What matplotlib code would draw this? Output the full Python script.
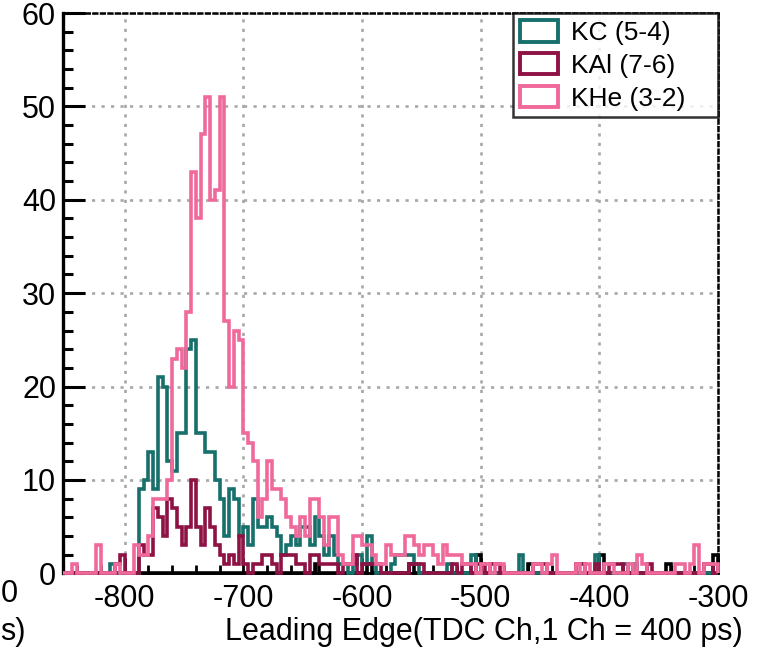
import numpy as np
import matplotlib
matplotlib.use('Agg')
import matplotlib.pyplot as plt
from matplotlib.patches import Patch
from matplotlib.ticker import MultipleLocator

plt.rcParams['font.family'] = ['Liberation Sans', 'DejaVu Sans']
plt.rcParams['axes.unicode_minus'] = False

# histogram binning: 4 channels per bin, -852 .. -300
bin_lo = -852
bin_hi = -300
bin_w = 4

# counts per bin, 10 bins per row starting at -852
khe = [0, 0, 1, 0, 0, 0, 0, 3, 0, 0,
       0, 1, 0, 0, 0, 3, 2, 2, 4, 8,
       8, 8, 10, 23, 24, 22, 28, 43, 38, 47,
       51, 40, 41, 51, 27, 20, 26, 25, 15, 14,
       12, 6, 8, 12, 9, 9, 8, 6, 5, 4,
       6, 4, 8, 8, 6, 3, 6, 6, 2, 1,
       1, 4, 4, 3, 3, 2, 1, 1, 3, 2,
       2, 2, 4, 4, 3, 2, 3, 3, 2, 1,
       3, 2, 2, 2, 1, 1, 1, 0, 1, 1,
       0, 1, 1, 0, 0, 0, 0, 0, 0, 1,
       1, 0, 1, 2, 0, 0, 0, 0, 1, 0,
       1, 0, 0, 0, 1, 1, 0, 0, 0, 1,
       0, 2, 1, 0, 0, 0, 0, 0, 0, 1,
       1, 0, 1, 3, 0, 1, 1, 1]

kc = [0, 0, 0, 0, 0, 0, 0, 0, 0, 0,
      1, 0, 0, 0, 0, 0, 9, 10, 13, 9,
      21, 20, 12, 11, 15, 15, 24, 25, 15, 15,
      13, 13, 10, 8, 4, 9, 8, 4, 5, 3,
      8, 5, 5, 6, 5, 4, 2, 3, 4, 3,
      5, 5, 3, 6, 4, 2, 4, 2, 1, 1,
      0, 1, 2, 1, 4, 1, 0, 0, 0, 1,
      2, 2, 2, 2, 1, 0, 0, 0, 0, 0,
      0, 1, 0, 0, 0, 0, 2, 0, 0, 0,
      0, 0, 0, 0, 0, 0, 2, 0, 0, 0,
      0, 0, 0, 0, 0, 0, 0, 0, 0, 0,
      0, 0, 2, 0, 0, 0, 0, 0, 1, 0,
      1, 0, 0, 0, 0, 0, 0, 0, 0, 0,
      0, 0, 0, 0, 0, 0, 0, 0]

kal = [0, 0, 0, 0, 0, 0, 0, 0, 0, 0,
       0, 1, 2, 0, 0, 0, 3, 2, 2, 7,
       6, 4, 8, 7, 5, 3, 5, 10, 5, 3,
       7, 5, 3, 2, 1, 2, 1, 4, 1, 0,
       1, 1, 2, 2, 1, 0, 2, 2, 2, 1,
       1, 0, 2, 2, 1, 1, 1, 1, 0, 1,
       1, 2, 0, 1, 1, 1, 1, 0, 0, 0,
       0, 0, 0, 1, 1, 1, 0, 0, 0, 0,
       0, 0, 1, 0, 1, 1, 0, 1, 1, 0,
       1, 1, 0, 0, 0, 0, 0, 0, 0, 1,
       1, 1, 0, 0, 0, 0, 0, 0, 1, 1,
       0, 0, 1, 0, 0, 1, 1, 1, 0, 0,
       0, 0, 0, 1, 0, 0, 0, 0, 0, 0,
       0, 0, 0, 0, 0, 1, 1, 0]

other = [0, 0, 0, 0, 0, 0, 0, 0, 0, 0,
         0, 0, 0, 0, 0, 0, 0, 0, 0, 0,
         0, 0, 0, 0, 0, 0, 0, 0, 0, 0,
         0, 0, 0, 0, 0, 0, 0, 0, 0, 0,
         0, 0, 0, 0, 0, 0, 0, 0, 0, 0,
         0, 0, 0, 1, 0, 0, 0, 0, 0, 0,
         0, 0, 0, 0, 1, 0, 0, 0, 0, 0,
         0, 0, 0, 1, 0, 0, 0, 0, 0, 0,
         0, 0, 0, 0, 0, 0, 0, 2, 0, 0,
         0, 0, 0, 0, 0, 0, 0, 0, 1, 0,
         0, 0, 0, 0, 0, 0, 0, 0, 0, 0,
         0, 0, 0, 2, 0, 0, 0, 0, 0, 0,
         0, 0, 0, 0, 0, 0, 0, 1, 0, 0,
         0, 0, 0, 0, 0, 0, 0, 2]

labels = ['KC (5-4)', 'KAl (7-6)', 'KHe (3-2)']
colors = ['#17706c', '#8e1244', '#f0699b']
xlabel = 'Leading Edge(TDC Ch,1 Ch = 400 ps)'

edges = np.arange(bin_lo, bin_hi + 1, bin_w)

fig = plt.figure(figsize=(7.68, 6.48), dpi=100)
ax = fig.add_axes([63/768, 1 - 573.3/648, 655/768, 560.3/648])

# unlabeled black histogram first, then the three in legend order
ax.stairs(other, edges, color='black', lw=2.6, baseline=0, zorder=3, clip_on=False)
for vals, col in zip([kc, kal, khe], colors):
    ax.stairs(vals, edges, color=col, lw=2.6, baseline=0, zorder=3, clip_on=False)

ax.set_xlim(bin_lo, bin_hi)
ax.set_ylim(0, 60)
ax.xaxis.set_major_locator(MultipleLocator(100))
ax.xaxis.set_minor_locator(MultipleLocator(20))
ax.yaxis.set_major_locator(MultipleLocator(10))
ax.yaxis.set_minor_locator(MultipleLocator(2))
ax.tick_params(axis='both', which='both', direction='in', top=False, right=False,
               labelsize=22, color='black')
ax.tick_params(axis='y', which='major', length=15.5, width=2.2, pad=5)
ax.tick_params(axis='y', which='minor', length=7, width=2.2)
ax.tick_params(axis='x', which='major', length=11, width=2, pad=8)
ax.tick_params(axis='x', which='minor', length=6, width=2)

ax.grid(True, which='major', color='#a8a8a8', ls=(0, (1.2, 2.4)), lw=1.9)
ax.set_axisbelow(True)

ax.spines['left'].set_linewidth(2.4)
ax.spines['bottom'].set_linewidth(2)
for s in ['top', 'right']:
    ax.spines[s].set_linestyle((0, (1.5, 1.5)))
    ax.spines[s].set_linewidth(1.8)

handles = [Patch(facecolor='white', edgecolor=c, lw=2.8) for c in colors]
leg = ax.legend(handles, labels, loc='upper left', bbox_to_anchor=(0.687, 0, 0.313, 1.0),
                mode='expand', borderaxespad=0, fontsize=19, frameon=True, fancybox=False,
                handlelength=1.45, handleheight=0.9, handletextpad=0.5,
                labelspacing=0.3, borderpad=0.25)
leg.get_frame().set_edgecolor('black')
leg.get_frame().set_linewidth(1.8)
leg.set_zorder(5)

fig.text(743/768, 1 - 632/648, xlabel, ha='right', va='center', fontsize=22)

# what is left of the neighbouring panel's labels at the crop edge
fig.text(1/768, 1 - 594/648, '0', ha='left', va='center', fontsize=22)
fig.text(0/768, 1 - 632/648, 's)', ha='left', va='center', fontsize=22)

fig.savefig('out.png', dpi=100)
